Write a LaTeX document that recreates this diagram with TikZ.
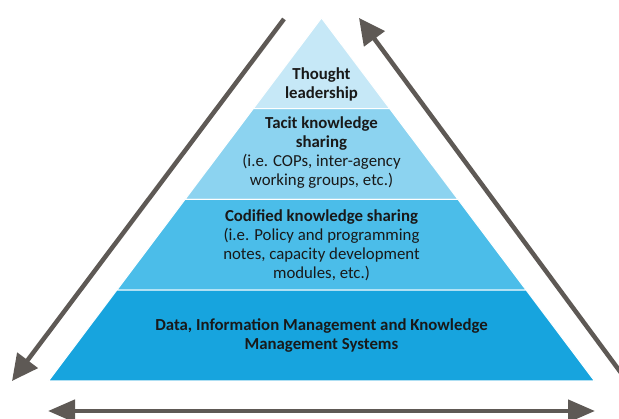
\documentclass[tikz,border=0pt]{standalone}
\usepackage{fontspec}
\setmainfont{Carlito}
\usetikzlibrary{arrows.meta,calc}
\definecolor{layerA}{HTML}{C6E8F7}
\definecolor{layerB}{HTML}{8CD3F0}
\definecolor{layerC}{HTML}{4BBDE9}
\definecolor{layerD}{HTML}{17A4DE}
\definecolor{arrowgray}{HTML}{5E5955}
\tikzset{
  levelfill/.style={draw=white,line width=1pt},
  leveltext/.style={align=center,text=black!90,font=\fontsize{16.8}{19}\selectfont,inner sep=0pt},
  bigarrow/.style={draw=arrowgray,line width=4.5pt,-{Triangle[length=26pt,width=25pt]}},
}
\begin{document}
\begin{tikzpicture}[x=1pt,y=-1pt]
    \useasboundingbox (0,0) rectangle (619,419);
    \coordinate (apex) at (321.5,18);
    \coordinate (bl) at (48.5,381);
    \coordinate (br) at (594.5,381);
    % four layers, top to bottom
    \foreach \t/\u/\c in {0/0.25/layerA,0.25/0.5/layerB,0.5/0.75/layerC,0.75/1/layerD}
      \filldraw[levelfill,fill=\c] ($(apex)!\t!(bl)$) -- ($(apex)!\u!(bl)$) -- ($(apex)!\u!(br)$) -- ($(apex)!\t!(br)$) -- cycle;
    \node[leveltext,font=\fontsize{16.8}{19}\selectfont\bfseries] (thought) at (321.5,84) {Thought\\leadership};
    \node[leveltext] (tacit) at (321.5,153) {\textbf{Tacit knowledge}\\\textbf{sharing}\\(i.e. COPs, inter-agency\\working groups, etc.)};
    \node[leveltext] (codified) at (321.5,245) {\textbf{Codified knowledge sharing}\\(i.e. Policy and programming\\notes, capacity development\\modules, etc.)};
    \node[leveltext,font=\fontsize{16.8}{19}\selectfont\bfseries] (data) at (321.5,336) {Data, Information Management and Knowledge\\Management Systems};
    % arrows round the pyramid
    \coordinate (lstart) at (284,19);
    \coordinate (lend) at (12,381);
    \coordinate (rstart) at (630,385);
    \coordinate (rend) at (359,18);
    \coordinate (bleft) at (48,411);
    \coordinate (bright) at (595,411);
    \draw[bigarrow] (lstart) -- (lend);
    \draw[bigarrow] (rstart) -- (rend);
    \draw[bigarrow,{Triangle[length=27pt,width=22pt]}-{Triangle[length=27pt,width=22pt]}] (bleft) -- (bright);
  \end{tikzpicture}
\end{document}
